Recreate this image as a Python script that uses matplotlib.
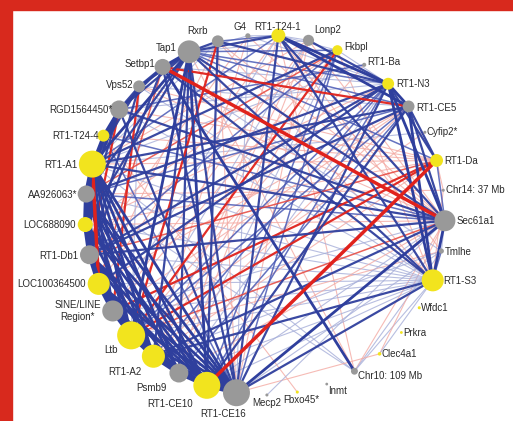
import numpy as np
import matplotlib
matplotlib.use("Agg")
import matplotlib.pyplot as plt
from matplotlib.patches import Circle, Rectangle

# ---------------- data ----------------
nodes = ["Rxrb", "G4", "RT1-T24-1", "Lonp2", "Fkbpl", "RT1-Ba", "RT1-N3", "RT1-CE5",
         "Cyfip2*", "RT1-Da", "Chr14: 37 Mb", "Sec61a1", "Tmlhe", "RT1-S3", "Wfdc1",
         "Prkra", "Clec4a1", "Chr10: 109 Mb", "Inmt", "Fbxo45*", "Mecp2", "RT1-CE16",
         "RT1-CE10", "Psmb9", "RT1-A2", "Ltb", "SINE/LINE\nRegion*", "LOC100364500",
         "RT1-Db1", "LOC688090", "AA926063*", "RT1-A1", "RT1-T24-4", "RGD1564450*",
         "Vps52", "Setbp1", "Tap1"]
node_weight = [0.38, 0.12, 0.46, 0.35, 0.31, 0.08, 0.38, 0.38,
               0.04, 0.42, 0.04, 0.73, 0.12, 0.77, 0.04,
               0.03, 0.06, 0.19, 0.03, 0.04, 0.04, 0.96,
               0.96, 0.65, 0.81, 1.00, 0.73, 0.77,
               0.65, 0.50, 0.58, 0.96, 0.38, 0.62,
               0.38, 0.54, 0.80]
node_type = ["g", "g", "y", "g", "y", "g", "y", "g",
             "g", "y", "g", "g", "g", "y", "y",
             "y", "y", "g", "g", "y", "g", "g",
             "y", "g", "y", "y", "g", "y",
             "g", "y", "g", "y", "y", "g",
             "g", "g", "g"]

SINE = "SINE/LINE\nRegion*"
edges = [
    # left cluster
    ("RT1-A1", "AA926063*", 0.95), ("AA926063*", "LOC688090", 0.95),
    ("LOC688090", "RT1-Db1", 0.95), ("RT1-Db1", "LOC100364500", 0.95),
    ("LOC100364500", SINE, 0.95), (SINE, "Ltb", 0.95), ("Ltb", "RT1-A2", 0.95),
    ("RT1-A2", "Psmb9", 0.95), ("Psmb9", "RT1-CE10", 0.95), ("RT1-CE10", "RT1-CE16", 0.95),
    ("RT1-A1", "LOC688090", 0.9), ("AA926063*", "RT1-Db1", 0.9),
    ("LOC688090", "LOC100364500", 0.9), ("RT1-Db1", SINE, 0.9),
    ("LOC100364500", "Ltb", 0.9), (SINE, "RT1-A2", 0.9), ("Ltb", "Psmb9", 0.9),
    ("RT1-A2", "RT1-CE10", 0.9), ("Psmb9", "RT1-CE16", 0.9),
    ("RT1-A1", "RT1-Db1", 0.85), ("RT1-A1", SINE, 0.85), ("RT1-A1", "Ltb", 0.85),
    ("RT1-A1", "RT1-A2", 0.85), ("RT1-A1", "Psmb9", 0.85), ("RT1-A1", "RT1-CE10", 0.85),
    ("RT1-A1", "RT1-CE16", 0.85), ("AA926063*", "LOC100364500", 0.85),
    ("AA926063*", "Ltb", 0.85), ("AA926063*", "RT1-A2", 0.8), ("AA926063*", "Psmb9", 0.8),
    ("AA926063*", "RT1-CE10", 0.85), ("AA926063*", "RT1-CE16", 0.85),
    ("LOC688090", SINE, 0.8), ("LOC688090", "RT1-A2", 0.8), ("LOC688090", "RT1-CE10", 0.8),
    ("LOC688090", "RT1-CE16", 0.85), ("RT1-Db1", "Ltb", 0.85), ("RT1-Db1", "Psmb9", 0.8),
    ("RT1-Db1", "RT1-CE10", 0.8), ("RT1-Db1", "RT1-CE16", 0.85),
    ("LOC100364500", "RT1-A2", 0.8), ("LOC100364500", "RT1-CE10", 0.8),
    ("LOC100364500", "RT1-CE16", 0.8), (SINE, "Psmb9", 0.8), (SINE, "RT1-CE16", 0.8),
    ("Ltb", "RT1-CE10", 0.85), ("Ltb", "RT1-CE16", 0.85), ("RT1-A2", "RT1-CE16", 0.85),
    ("RT1-A1", "LOC100364500", -0.85),
    ("RT1-T24-4", "RT1-A1", 0.8), ("RT1-T24-4", "AA926063*", 0.7),
    # top cluster
    ("Tap1", "Rxrb", 0.7), ("Tap1", "RT1-T24-1", 0.6), ("Rxrb", "RT1-T24-1", 0.5),
    ("G4", "RT1-T24-1", 0.3), ("Tap1", "G4", 0.3), ("Tap1", "Setbp1", 0.8),
    ("Setbp1", "Vps52", 0.7), ("Vps52", "RGD1564450*", 0.7),
    ("RGD1564450*", "RT1-T24-4", 0.8), ("Tap1", "Vps52", 0.6),
    ("Tap1", "RGD1564450*", 0.7), ("Setbp1", "RGD1564450*", 0.6),
    ("RT1-T24-1", "Lonp2", 0.3), ("RT1-T24-1", "Fkbpl", 0.4), ("Tap1", "Fkbpl", 0.5),
    ("Tap1", "Lonp2", 0.3), ("Lonp2", "RT1-N3", 0.6), ("RT1-T24-1", "RT1-N3", 0.85),
    ("RT1-T24-1", "RT1-CE5", 0.85), ("Rxrb", "RT1-N3", 0.7), ("Tap1", "RT1-CE5", 0.5),
    ("Fkbpl", "RT1-N3", 0.3), ("G4", "RT1-N3", 0.4),
    # top to left cluster
    ("Tap1", "RT1-A1", 0.8), ("Tap1", "AA926063*", 0.7), ("Tap1", "LOC688090", 0.6),
    ("Tap1", "Ltb", 0.8), ("Tap1", "RT1-A2", 0.75), ("Tap1", "RT1-CE10", 0.8),
    ("Tap1", "RT1-CE16", 0.7), ("Tap1", "Psmb9", 0.6), ("Setbp1", "RT1-Db1", 0.7),
    ("Setbp1", "LOC100364500", -0.5), ("Setbp1", "RT1-CE16", 0.75),
    ("Setbp1", "Chr10: 109 Mb", 0.85), ("Setbp1", "Sec61a1", -0.9),
    ("Setbp1", "RT1-CE5", -0.7), ("Setbp1", "RT1-S3", 0.6),
    ("Vps52", "RT1-A1", 0.75), ("Vps52", SINE, -0.6), ("Vps52", "RT1-Db1", 0.6),
    ("Vps52", "Ltb", 0.4), ("RGD1564450*", "RT1-A1", 0.85),
    ("RGD1564450*", "AA926063*", 0.8), ("RGD1564450*", "LOC688090", 0.7),
    ("RGD1564450*", "RT1-Db1", -0.6), ("RGD1564450*", "RT1-CE16", 0.6),
    ("RGD1564450*", "Sec61a1", 0.6), ("RT1-T24-4", "LOC688090", -0.7),
    ("Rxrb", "RT1-A1", 0.4), ("Rxrb", "Ltb", -0.6), ("Rxrb", "LOC100364500", -0.3),
    ("RT1-T24-1", "RT1-A1", 0.5), ("RT1-T24-1", "LOC100364500", -0.4),
    ("RT1-T24-1", "RT1-CE16", 0.65), ("RT1-T24-1", SINE, 0.35),
    ("RT1-T24-1", "RT1-S3", 0.7), ("RT1-T24-1", "Sec61a1", 0.6),
    ("RT1-T24-1", "Chr10: 109 Mb", -0.3), ("RT1-T24-1", "Psmb9", -0.35),
    ("Fkbpl", "RT1-A1", 0.6), ("Fkbpl", "AA926063*", -0.5), ("Fkbpl", "RT1-Db1", 0.55),
    ("Fkbpl", "LOC688090", -0.3), ("Fkbpl", "Ltb", -0.6), ("Fkbpl", "RT1-CE10", 0.45),
    ("Fkbpl", SINE, -0.35), ("Lonp2", "RT1-A1", -0.3), ("Lonp2", "Ltb", 0.35),
    ("Lonp2", "RT1-A2", -0.3), ("G4", "RT1-CE16", 0.3), ("G4", "RT1-Db1", -0.3),
    ("RT1-Ba", "RGD1564450*", 0.55), ("RT1-Ba", "RT1-A1", 0.3),
    # right side
    ("RT1-N3", "RT1-CE5", 0.8), ("RT1-N3", "Sec61a1", 0.8), ("RT1-N3", "RT1-S3", 0.85),
    ("RT1-CE5", "RT1-S3", 0.85), ("RT1-CE5", "Sec61a1", 0.7), ("RT1-CE5", "RT1-Da", 0.6),
    ("RT1-N3", "RT1-Da", 0.6), ("RT1-Da", "Sec61a1", 0.5), ("Sec61a1", "RT1-S3", 0.8),
    ("Tmlhe", "RT1-S3", 0.5), ("Sec61a1", "Tmlhe", 0.4),
    ("Chr14: 37 Mb", "RT1-S3", -0.3), ("Chr14: 37 Mb", "RT1-Da", -0.3),
    ("RT1-S3", "Chr10: 109 Mb", 0.3), ("Sec61a1", "Chr10: 109 Mb", -0.3),
    ("Tmlhe", "Chr10: 109 Mb", 0.3), ("Clec4a1", "RT1-S3", 0.35),
    ("Clec4a1", "Sec61a1", -0.3), ("Mecp2", "Sec61a1", 0.35),
    ("Fbxo45*", "RT1-T24-4", -0.3), ("Chr10: 109 Mb", "RT1-A1", 0.3),
    ("Chr10: 109 Mb", "AA926063*", 0.3),
    # left cluster to right side
    ("RT1-A1", "RT1-Da", -0.3), ("LOC100364500", "RT1-S3", 0.3), ("RT1-A1", "RT1-S3", 0.35),
    ("AA926063*", "RT1-S3", 0.35), ("LOC688090", "RT1-S3", 0.3), ("RT1-Db1", "RT1-S3", 0.35),
    (SINE, "RT1-S3", 0.3), ("Ltb", "RT1-S3", 0.4), ("RT1-A2", "RT1-S3", 0.6),
    ("Psmb9", "RT1-S3", 0.3), ("RT1-CE10", "RT1-S3", 0.35), ("RT1-CE16", "Sec61a1", 0.8),
    ("RT1-CE16", "RT1-S3", 0.6), ("RT1-A1", "Sec61a1", 0.6), ("AA926063*", "Sec61a1", 0.5),
    ("RT1-Db1", "Sec61a1", 0.7), ("LOC688090", "Sec61a1", -0.4), ("Ltb", "Sec61a1", -0.5),
    (SINE, "Sec61a1", 0.4), ("RT1-A1", "RT1-CE5", 0.6), ("AA926063*", "RT1-CE5", 0.5),
    ("RT1-Db1", "RT1-N3", 0.65), ("LOC688090", "RT1-N3", -0.4), ("Ltb", "RT1-N3", 0.5),
    ("RT1-A2", "RT1-CE5", -0.35), ("Psmb9", "RT1-N3", 0.4), ("RT1-Da", "RT1-CE10", -0.9),
    ("RT1-Da", SINE, -0.6), ("RT1-Da", "RT1-Db1", -0.55), ("RT1-Da", "Ltb", -0.6),
    ("RT1-Da", "LOC688090", -0.3), ("RT1-Da", "RT1-A2", -0.4), ("RT1-CE16", "RT1-N3", 0.75),
    ("RT1-CE10", "RT1-CE5", 0.6), ("RT1-CE16", "Fkbpl", 0.5), ("Psmb9", "Fkbpl", 0.4),
    ("RT1-CE16", "Tmlhe", 0.3), ("RT1-CE16", "Clec4a1", -0.3), ("RT1-A2", "Tmlhe", 0.35),
    ("Ltb", "Tmlhe", -0.3), ("Psmb9", "Sec61a1", -0.4), ("RT1-CE10", "Sec61a1", 0.4),
    ("Lonp2", "Sec61a1", -0.3), ("Fkbpl", "RT1-S3", -0.3), ("RT1-A1", "Cyfip2*", 0.3),
    ("AA926063*", "Chr14: 37 Mb", -0.3), ("RGD1564450*", "RT1-S3", 0.35),
    ("Vps52", "RT1-S3", 0.3), ("Vps52", "Sec61a1", -0.35), ("RGD1564450*", "RT1-Da", -0.4),
    ("RT1-T24-4", "RT1-Da", -0.3), ("RT1-T24-4", "Sec61a1", 0.5),
    ("RT1-T24-4", "RT1-CE16", 0.5), ("Tap1", "Chr10: 109 Mb", -0.25),
    ("Rxrb", "Sec61a1", -0.25), ("Rxrb", "RT1-S3", -0.25), ("G4", "Sec61a1", -0.25),
    ("Lonp2", "RT1-CE16", -0.25), ("Lonp2", "Psmb9", -0.25), ("Fkbpl", "RT1-A2", -0.3),
    ("RT1-Ba", "Ltb", -0.25), ("RT1-CE5", SINE, -0.3), ("RT1-CE5", "LOC100364500", -0.3),
    ("Cyfip2*", "Ltb", -0.25), ("RT1-Da", "Vps52", -0.3), ("Tmlhe", "RT1-T24-1", -0.25),
    ("Tap1", "RT1-S3", 0.7), ("Tap1", "Sec61a1", 0.6), ("Tap1", "RT1-Da", 0.5),
    ("Tap1", "RT1-N3", 0.45), ("Setbp1", "RT1-N3", 0.3), ("Setbp1", "Tmlhe", 0.3),
    ("Vps52", "RT1-CE5", 0.3), ("RGD1564450*", "RT1-N3", 0.35), ("Rxrb", "RT1-CE16", -0.3),
    ("Rxrb", "RT1-CE10", 0.6), ("G4", "RT1-A2", -0.25), ("Lonp2", SINE, -0.25),
    ("AA926063*", "RT1-N3", 0.6), ("RT1-Db1", "RT1-CE5", 0.6), ("LOC100364500", "RT1-N3", 0.6),
    ("Ltb", "RT1-CE5", 0.5), ("RT1-A2", "RT1-N3", 0.45), ("Psmb9", "RT1-CE5", 0.5),
    ("RT1-CE10", "RT1-N3", 0.5), ("RT1-A2", "Sec61a1", 0.6),
]

# ---------------- layout / style ----------------
W, H = 513, 421
CX, CY, R = 265.0, 215.0, 180.0
n = len(nodes)
ang = np.deg2rad(105.2 - np.arange(n) * 360.0 / n)
px = CX + R * np.cos(ang)
py = CY - R * np.sin(ang)
pos = {name: (px[i], py[i]) for i, name in enumerate(nodes)}
diam = 2 + 26 * np.array(node_weight)

fill = {"y": "#f2e41e", "g": "#999999"}

label_style = {
    "Rxrb": (-10, -10, "right"), "G4": (-1, -8.5, "right"), "RT1-T24-1": (-1, -8.5, "center"),
    "Lonp2": (6, -10, "left"), "Fkbpl": (7, -3, "left"), "RT1-Ba": (3, -3, "left"),
    "RT1-N3": (8, 0, "left"), "RT1-CE5": (8, 1.5, "left"), "Cyfip2*": (2, 0, "left"),
    "RT1-Da": (8, 1, "left"), "Chr14: 37 Mb": (3, 0, "left"), "Sec61a1": (12, 0, "left"),
    "Tmlhe": (3, 0.5, "left"), "RT1-S3": (11, 1, "left"), "Wfdc1": (2, 0, "left"),
    "Prkra": (2, 0.5, "left"), "Clec4a1": (2, 0, "left"), "Chr10: 109 Mb": (4, 5, "left"),
    "Inmt": (1, 7, "left"), "Fbxo45*": (4.5, 7.5, "center"), "Mecp2": (0, 8, "center"),
    "RT1-CE16": (-13.5, 21, "center"), "RT1-CE10": (-14, 19, "right"),
    "Psmb9": (-12, 15, "right"), "RT1-A2": (-12, 16, "right"), "Ltb": (-13, 15, "right"),
    SINE: (-12, 0, "right"), "LOC100364500": (-13, 0, "right"), "RT1-Db1": (-11, 1.5, "right"),
    "LOC688090": (-10, 0, "right"), "AA926063*": (-9, 0.5, "right"), "RT1-A1": (-15, 1, "right"),
    "RT1-T24-4": (-5, 0, "right"), "RGD1564450*": (-7, 0, "right"), "Vps52": (-6, -1, "right"),
    "Setbp1": (-7, -2.5, "right"), "Tap1": (-12, -3.5, "right"),
}


def edge_style(w):
    a = abs(w)
    if w > 0:
        dark, mid, light = "#2f3f9d", "#4a5ab5", "#a6aed9"
    else:
        dark, mid, light = "#e0221c", "#e6453c", "#f4aaa3"
    if a >= 0.92:
        return dark, 3.2, 1.0
    if w < 0 and a >= 0.85:
        return dark, 2.5, 1.0
    if a >= 0.8:
        return dark, 2.0, 1.0
    if a >= 0.6:
        return dark, 1.6, 0.95
    if a >= 0.45:
        return mid, 1.1, 0.85
    return light, 0.8, 0.8


fig = plt.figure(figsize=(W / 100, H / 100), dpi=100)
ax = fig.add_axes([0, 0, 1, 1])
ax.set_xlim(0, W)
ax.set_ylim(H, 0)
ax.axis("off")

# frame
ax.add_patch(Rectangle((0, 0), 12, H, color="#d8291d", zorder=0))
ax.add_patch(Rectangle((0, 0), W, 10, color="#d8291d", zorder=0))

for s, t, w in sorted(edges, key=lambda e: abs(e[2])):
    c, lw, al = edge_style(w)
    (x0, y0), (x1, y1) = pos[s], pos[t]
    ax.plot([x0, x1], [y0, y1], color=c, lw=lw, alpha=al, solid_capstyle="butt", zorder=1)

for i, name in enumerate(nodes):
    ax.add_patch(Circle((px[i], py[i]), diam[i] / 2, facecolor=fill[node_type[i]],
                        edgecolor="none", zorder=3))
    dx, dy, ha = label_style[name]
    ax.text(px[i] + dx, py[i] + dy, name, ha=ha, va="center", multialignment="center",
            fontsize=7, family=["Liberation Sans", "DejaVu Sans"], color="#2b2b2b",
            linespacing=1.15, zorder=4)

fig.savefig("out.png", dpi=100)
